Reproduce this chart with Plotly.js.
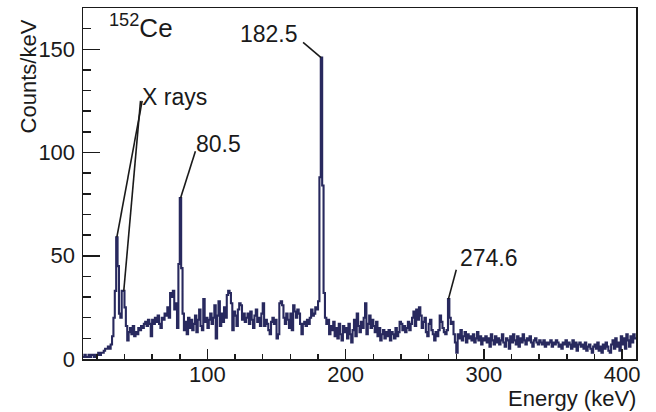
<!DOCTYPE html>
<html>
<head>
<meta charset="utf-8">
<script src="https://cdn.plot.ly/plotly-3.0.1.min.js"></script>
<style>html,body{margin:0;padding:0;background:#fff;}#chart{width:656px;height:412px;}</style>
</head>
<body>
<div id="chart"></div>
<script>
// Histogram: 1 keV bins starting at 10 keV
const binStart = 10;
const binWidth = 1;
const counts = [
  1,2,1,1,2,1,2,2,1,2,        // 10-19
  2,3,2,3,3,4,5,5,6,5,        // 20-29
  7,11,20,33,59,45,22,20,33,33, // 30-39
  25,16,9,13,15,12,16,11,13,12, // 40-49
  15,14,16,15,17,18,16,19,17,11, // 50-59
  19,17,20,18,21,17,15,20,19,22, // 60-69
  21,25,20,32,30,33,24,27,15,46, // 70-79
  78,44,22,14,18,12,20,15,19,14, // 80-89
  17,21,13,19,24,16,14,29,18,20, // 90-99
  15,19,22,17,20,26,10,21,28,16, // 100-109
  22,18,25,20,31,33,32,27,14,23, // 110-119
  21,16,24,27,26,19,22,18,20,22, // 120-129
  17,23,19,15,21,24,18,20,16,22, // 130-139
  27,16,19,17,14,12,18,20,17,19, // 140-149
  10,12,27,28,26,20,17,22,19,15, // 150-159
  22,14,26,23,20,24,22,17,12,17, // 160-169
  18,16,19,17,20,24,21,22,25,24, // 170-179
  28,88,146,84,32,20,17,19,12,16, // 180-189
  14,18,11,15,10,17,12,9,16,13, // 190-199
  15,10,17,12,8,14,19,11,22,16, // 200-209
  13,18,15,20,27,12,17,21,15,19, // 210-219
  16,13,18,11,15,9,12,14,10,13, // 220-229
  11,14,9,13,12,10,15,11,13,18, // 230-239
  17,14,16,13,15,18,14,17,20,23, // 240-249
  16,24,19,25,21,15,18,20,13,11, // 250-259
  17,19,14,12,9,13,11,14,21,18, // 260-269
  15,13,12,14,29,20,17,18,12,8, // 270-279
  3,12,10,14,9,11,13,8,12,10,   // 280-289
  11,9,12,8,10,13,9,11,7,10,    // 290-299
  9,11,8,10,6,12,9,7,11,8,      // 300-309
  10,7,9,12,8,6,10,9,5,11,      // 310-319
  8,12,9,7,11,6,10,8,12,9,      // 320-329
  7,10,9,11,8,6,9,10,8,7,       // 330-339
  9,8,7,9,6,8,7,8,9,6,          // 340-349
  8,7,9,8,6,7,5,8,7,9,          // 350-359
  6,8,7,5,9,6,8,4,7,8,          // 360-369
  6,7,5,8,4,6,7,5,3,6,          // 370-379
  7,5,8,4,6,3,7,5,8,6,          // 380-389
  4,3,7,9,5,10,6,8,4,11,        // 390-399
  7,10,5,12,9,6,11,8,12,10      // 400-409
];
const xTickVals = [100, 200, 300, 400];
const yTickVals = [0, 50, 100, 150];
const peakNames = ['X rays', '80.5', '182.5', '274.6'];
const xRayLines = [34.5, 39.5];
const peakEnergies = [80.5, 182.5, 274.6];
const nucleusLabel = '<sup>152</sup>Ce';
const xTitle = 'Energy (keV)';
const yTitle = 'Counts/keV';

const FONT = 'Liberation Sans, Arial, Helvetica, sans-serif';
const INK = '#1a1a1a';
const LINE = '#28295e';

const xs = counts.map((c, i) => binStart + i * binWidth).concat([binStart + counts.length * binWidth]);
const ys = counts.concat([counts[counts.length - 1]]);
const valAt = e => counts[Math.floor((e - binStart) / binWidth)];

const trace = {
  type: 'scatter', mode: 'lines', x: xs, y: ys,
  line: {shape: 'hv', color: LINE, width: 2.1},
  hoverinfo: 'skip', showlegend: false
};

function seg(x0, y0, x1, y1) {
  return {type: 'line', xref: 'x', yref: 'y', x0: x0, y0: y0, x1: x1, y1: y1,
          line: {color: INK, width: 1.6}};
}
const shapes = [
  seg(52.8, 125, xRayLines[0], valAt(xRayLines[0])),
  seg(51.6, 125, xRayLines[1], valAt(xRayLines[1])),
  seg(91.3, 100.6, peakEnergies[0] + 0.1, valAt(peakEnergies[0])),
  seg(169.2, 153.4, peakEnergies[1] - 0.3, valAt(peakEnergies[1])),
  seg(280.0, 43.2, peakEnergies[2] - 0.3, valAt(peakEnergies[2]))
];

function lbl(text, x, y, xanchor, size) {
  return {text: text, x: x, y: y, xref: 'x', yref: 'y', xanchor: xanchor, yanchor: 'middle',
          showarrow: false, font: {family: FONT, size: size || 23, color: INK}};
}
const annotations = [
  lbl(peakNames[0], 51.5, 126.7, 'left'),
  lbl(peakNames[1], 90.6, 104, 'left'),
  lbl(peakNames[2], 167.3, 157.3, 'right'),
  lbl(peakNames[3], 281, 49, 'left'),
  lbl(nucleusLabel, 27.5, 161, 'left', 26),
  {text: xTitle, xref: 'paper', yref: 'paper', x: 1.003, y: -0.113, xanchor: 'right', yanchor: 'middle',
   showarrow: false, font: {family: FONT, size: 22, color: INK}},
  {text: yTitle, xref: 'paper', yref: 'paper', x: -0.0995, y: 0.805, xanchor: 'center', yanchor: 'middle',
   textangle: -90, showarrow: false, font: {family: FONT, size: 22, color: INK}}
];

const layout = {
  width: 656, height: 412,
  margin: {l: 83, r: 20, t: 8, b: 53},
  paper_bgcolor: '#fff', plot_bgcolor: '#fff',
  font: {family: FONT, size: 22, color: INK},
  showlegend: false,
  xaxis: {
    range: [binStart, binStart + counts.length * binWidth],
    tickvals: xTickVals, ticktext: xTickVals.map(String),
    ticks: 'inside', ticklen: 10, tickwidth: 1.5, tickcolor: INK,
    ticklabelstandoff: -5,
    minor: {dtick: 20, tick0: 0, ticks: 'inside', ticklen: 5, tickwidth: 1.5, tickcolor: INK, showgrid: false},
    showline: true, mirror: true, linecolor: INK, linewidth: 1.5,
    showgrid: false, zeroline: false,
    tickfont: {family: FONT, size: 22, color: INK}
  },
  yaxis: {
    range: [0, 170],
    tickvals: yTickVals, ticktext: yTickVals.map(String),
    ticks: 'inside', ticklen: 17, tickwidth: 1.5, tickcolor: INK,
    ticklabelstandoff: 2,
    minor: {dtick: 10, tick0: 0, ticks: 'inside', ticklen: 8, tickwidth: 1.5, tickcolor: INK, showgrid: false},
    showline: true, mirror: true, linecolor: INK, linewidth: 1.5,
    showgrid: false, zeroline: false,
    tickfont: {family: FONT, size: 22, color: INK}
  },
  shapes: shapes,
  annotations: annotations
};

Plotly.newPlot('chart', [trace], layout, {displayModeBar: false, staticPlot: true});
</script>
</body>
</html>
